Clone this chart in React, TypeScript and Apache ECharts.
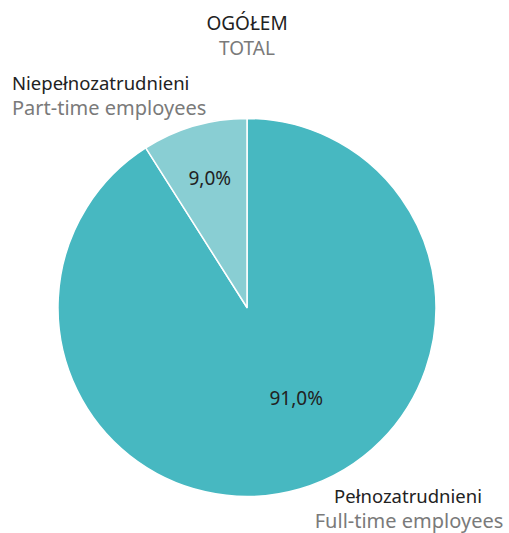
import React, { useEffect, useRef } from "react";
import * as echarts from "echarts";

const categoriesPl = ["Pełnozatrudnieni", "Niepełnozatrudnieni"];
const categoriesEn = ["Full-time employees", "Part-time employees"];
const values = [91.0, 9.0];
const sliceColors = ["#47b8c1", "#89ced3"];
const titlePl = "OGÓŁEM";
const titleEn = "TOTAL";

const FONT = "'Noto Sans', 'Open Sans', sans-serif";
const DARK = "#222222";
const GRAY = "#7a7a7a";

export default function App() {
  const ref = useRef<HTMLDivElement>(null);
  useEffect(() => {
    if (!ref.current) return;
    const chart = echarts.init(ref.current, undefined, { renderer: "svg" });
    const fmt = (v: number) => v.toFixed(1).replace(".", ",") + "%";
    const labelOffsets = [
      [22, -3],
      [-10, -36],
    ];
    chart.setOption({
      animation: false,
      backgroundColor: "#ffffff",
      graphic: [
        {
          type: "text",
          x: 247,
          y: 32,
          style: { text: titlePl, fill: DARK, font: `19px ${FONT}`, textAlign: "center", textVerticalAlign: "bottom" },
        },
        {
          type: "text",
          x: 247,
          y: 57,
          style: { text: titleEn, fill: GRAY, font: `19px ${FONT}`, textAlign: "center", textVerticalAlign: "bottom" },
        },
        {
          type: "text",
          x: 12,
          y: 92,
          style: { text: categoriesPl[1], fill: DARK, font: `18.5px ${FONT}`, textAlign: "left", textVerticalAlign: "bottom" },
        },
        {
          type: "text",
          x: 12,
          y: 117,
          style: { text: categoriesEn[1], fill: GRAY, font: `20px ${FONT}`, textAlign: "left", textVerticalAlign: "bottom" },
        },
        {
          type: "text",
          x: 408,
          y: 505,
          style: { text: categoriesPl[0], fill: DARK, font: `18.5px ${FONT}`, textAlign: "center", textVerticalAlign: "bottom" },
        },
        {
          type: "text",
          x: 409,
          y: 530,
          style: { text: categoriesEn[0], fill: GRAY, font: `20px ${FONT}`, textAlign: "center", textVerticalAlign: "bottom" },
        },
      ],
      series: [
        {
          type: "pie",
          center: [247, 307.5],
          radius: [0, 189],
          startAngle: 90,
          clockwise: true,
          avoidLabelOverlap: false,
          itemStyle: { borderColor: "#ffffff", borderWidth: 1.5 },
          label: {
            show: true,
            position: "inside",
            color: DARK,
            fontSize: 19,
            fontFamily: FONT,
            formatter: (p: any) => fmt(p.value),
          },
          labelLine: { show: false },
          emphasis: { disabled: true },
          data: values.map((v, i) => ({
            value: v,
            name: categoriesPl[i],
            itemStyle: { color: sliceColors[i] },
            label: { offset: labelOffsets[i] },
          })),
        },
      ],
    });
    return () => chart.dispose();
  }, []);
  return (
    <div
      ref={ref}
      style={{ position: "fixed", left: 0, top: 0, width: 509, height: 533 }}
    />
  );
}
